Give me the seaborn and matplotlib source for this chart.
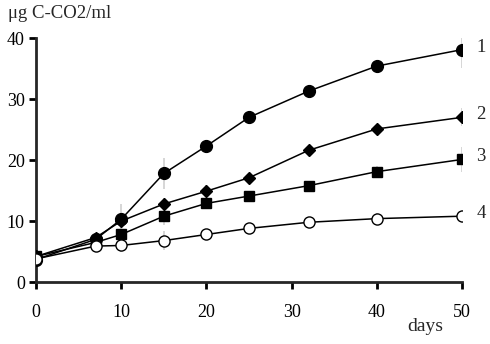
import numpy as np
import pandas as pd
import seaborn as sns
import matplotlib.pyplot as plt

days = [0, 7, 10, 15, 20, 25, 32, 40, 50]
s1 = [3.7, 7.0, 10.3, 17.8, 22.3, 27.0, 31.3, 35.4, 38.1]
s2 = [4.2, 7.3, 10.0, 12.8, 14.9, 17.1, 21.6, 25.1, 27.0]
s3 = [4.2, 6.5, 7.8, 10.8, 12.9, 14.1, 15.8, 18.1, 20.1]
s4 = [3.8, 5.9, 6.0, 6.8, 7.8, 8.8, 9.8, 10.4, 10.8]
e1 = [0.5, 0.8, 2.5, 2.5, 0.8, 1.0, 0.8, 0.8, 3.0]
e2 = [0.3, 0.8, 1.0, 1.0, 1.0, 0.8, 0.5, 0.5, 1.5]
e3 = [0.3, 0.6, 0.8, 1.5, 0.8, 0.8, 0.8, 1.0, 2.0]
e4 = [0.3, 0.8, 1.0, 1.6, 0.8, 0.5, 0.5, 1.0, 0.8]
labels = ['1', '2', '3', '4']

df = pd.DataFrame({
    'day': days * 4,
    'value': s1 + s2 + s3 + s4,
    'err': e1 + e2 + e3 + e4,
    'curve': [l for l in labels for _ in days],
})

sns.set_style('ticks')
plt.rcParams['font.family'] = ['Liberation Serif', 'DejaVu Serif']

fig = plt.figure(figsize=(4.9, 3.44), dpi=100)
ax = fig.add_axes([0.0735, 0.18, 0.8695, 0.7095])

# grey error bars behind the curves
ax.vlines(df['day'], df['value'] - df['err'], df['value'] + df['err'],
          color='#d0d0d0', lw=1.2, zorder=1)

styles = {
    '1': dict(marker='o', markersize=8.5, markerfacecolor='black'),
    '2': dict(marker='D', markersize=6, markerfacecolor='black'),
    '3': dict(marker='s', markersize=7, markerfacecolor='black'),
    '4': dict(marker='o', markersize=8, markerfacecolor='white'),
}
for lab in labels:
    d = df[df['curve'] == lab]
    sns.lineplot(data=d, x='day', y='value', ax=ax, color='black', lw=1.1,
                 markeredgecolor='black', markeredgewidth=1.0, zorder=3,
                 **styles[lab])
    ax.text(d['day'].iloc[-1] + 1.7, d['value'].iloc[-1] + 0.4, lab,
            fontsize=13.5, va='center', ha='left', clip_on=False)

ax.set_xlim(0, 50)
ax.set_ylim(0, 40)
ax.set_xticks([0, 10, 20, 30, 40, 50])
ax.set_yticks([0, 10, 20, 30, 40])
ax.set_xlabel('')
ax.set_ylabel('')
sns.despine(ax=ax)
for sp in ['left', 'bottom']:
    ax.spines[sp].set_linewidth(2.0)
ax.tick_params(axis='both', direction='out', width=2.0, length=5,
               labelsize=13, colors='black')
ax.tick_params(axis='x', pad=11)
ax.tick_params(axis='y', pad=3)

fig.text(0.016, 0.962, 'μg C-CO2/ml', fontsize=13.5, ha='left', va='center')
fig.text(0.868, 0.05, 'days', fontsize=14, ha='center', va='center')

plt.savefig('out.png', dpi=100)
